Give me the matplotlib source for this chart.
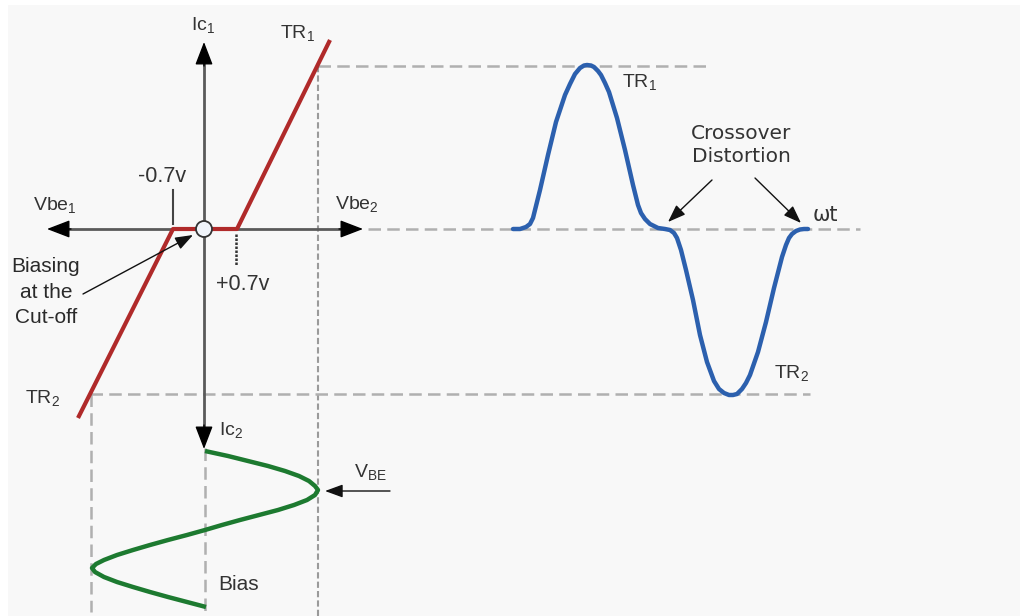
import matplotlib.pyplot as plt
from matplotlib.patches import Rectangle, Circle

plt.rcParams['font.family'] = ['Liberation Sans', 'DejaVu Sans']
plt.rcParams['mathtext.fontset'] = 'custom'
plt.rcParams['mathtext.rm'] = 'Liberation Sans'

# ---- transfer characteristic (red), pixel coords ----
red_x = [78, 173, 237, 330]
red_y = [418, 229, 229, 40]

# ---- output waveform with crossover distortion (blue) ----
blue_x = [513, 520, 526, 530, 533, 535, 540, 548, 556, 565, 570, 575, 580, 584, 587, 591,
          594, 598, 601, 605, 609, 617, 625, 633, 638, 641, 645, 650, 658, 665, 670,
          674, 677, 681, 686, 693, 700, 707, 714, 719, 724, 729, 733, 737, 742, 746,
          750, 758, 766, 774, 782, 786, 789, 792, 796, 800, 804, 808]
blue_y = [229, 229, 227, 224, 218, 210, 190, 155, 122, 95, 84, 74, 68, 65.5, 65, 65.5,
          67, 71, 75, 83, 92, 118, 150, 185, 205, 213, 219, 224, 228, 229, 230,
          233, 238, 250, 270, 300, 335, 362, 381, 389, 393, 395, 395, 394, 389, 383,
          375, 352, 322, 288, 257, 245, 238, 234, 231, 229.5, 229, 229]

# ---- input signal V_BE (green) ----
green_y = [451, 456, 461, 466, 471, 476, 481, 486, 490, 495, 500, 505, 510, 515, 520,
           525, 530, 535, 540, 545, 550, 555, 560, 564, 568, 572, 577, 582, 587, 592,
           597, 602, 607]
green_x = [205, 228, 248, 268, 285, 299, 309, 315, 318, 315, 307, 294, 278, 259, 240,
           222, 205, 187, 168, 150, 133, 117, 104, 96, 92, 95, 104, 117, 133, 150,
           168, 187, 206]

# axes origin
ox, oy = 204, 229

fig = plt.figure(figsize=(10.23, 6.16), dpi=100)
ax = fig.add_axes([0, 0, 1, 1])
ax.set_xlim(0, 1023)
ax.set_ylim(616, 0)
ax.axis('off')
ax.add_patch(Rectangle((8, 5), 1012, 620, facecolor='#f8f8f8', edgecolor='none', zorder=0))

# dashed guide lines
dash = dict(color='#b0b0b0', lw=1.8, ls=(0, (5, 2.5)), zorder=1)
top_y, bot_y = min(blue_y), max(blue_y)
ax.plot([318, 706], [top_y + 1, top_y + 1], **dash)
ax.plot([318, 318], [top_y + 1, 616], color='#9a9a9a', lw=1.5, ls=(0, (3, 1.5)), zorder=1)
ax.plot([368, 860], [oy, oy], **dash)
ax.plot([90, 810], [bot_y - 1, bot_y - 1], **dash)
ax.plot([91, 91], [bot_y - 1, 612], **dash)
ax.plot([205, 205], [448, 616], **dash)

# axes: grey lines with black arrow heads
ax.plot([ox, ox], [50, 440], color='#5a5a5a', lw=2, zorder=2)
ax.plot([55, 355], [oy, oy], color='#5a5a5a', lw=2, zorder=2)
head = dict(arrowstyle='-|>,head_length=0.65,head_width=0.25', color='black', lw=1,
            mutation_scale=22, shrinkA=0, shrinkB=0)
ax.annotate('', xy=(ox, 42), xytext=(ox, 66), arrowprops=head, zorder=3)
ax.annotate('', xy=(ox, 449), xytext=(ox, 425), arrowprops=head, zorder=3)
ax.annotate('', xy=(47, oy), xytext=(71, oy), arrowprops=head, zorder=3)
ax.annotate('', xy=(363, oy), xytext=(339, oy), arrowprops=head, zorder=3)

# threshold ticks
ax.plot([173, 173], [190, 224], color='#444444', lw=1.5, zorder=2)
ax.plot([236, 236], [234, 266], color='#333333', lw=1.8, ls=(0, (1, 0.6)), zorder=2)

# curves
ax.plot(red_x, red_y, color='#b02a2a', lw=3.0, solid_capstyle='butt', zorder=3)
ax.plot(blue_x, blue_y, color='#2c60ae', lw=3.2, solid_capstyle='round',
        solid_joinstyle='round', zorder=3)
ax.plot(green_x, green_y, color='#1d7a30', lw=3.2, solid_capstyle='butt',
        solid_joinstyle='round', zorder=3)

ax.add_patch(Circle((ox, oy), 8, facecolor='#f0f4fa', edgecolor='#333333', lw=1.3, zorder=4))

txt = dict(color='#333333', fontsize=14, ha='center', va='center', zorder=5)
ax.text(203, 26, 'Ic$_{\\mathregular{1}}$', **txt)
ax.text(298, 34, 'TR$_{\\mathregular{1}}$', **txt)
ax.text(162, 176, '-0.7v', **{**txt, 'fontsize': 15.5})
ax.text(243, 285, '+0.7v', **{**txt, 'fontsize': 15.5})
ax.text(55, 206, 'Vbe$_{\\mathregular{1}}$', **txt)
ax.text(357, 205, 'Vbe$_{\\mathregular{2}}$', **txt)
ax.text(46, 292, 'Biasing\nat the\nCut-off', linespacing=1.45,
        **{**txt, 'fontsize': 15, 'color': '#2a2a2a'})
ax.text(43, 399, 'TR$_{\\mathregular{2}}$', **txt)
ax.text(231, 431, 'Ic$_{\\mathregular{2}}$', **txt)
ax.text(370, 473, 'V$_{\\mathregular{BE}}$', **txt)
ax.text(239, 585, 'Bias', **{**txt, 'fontsize': 15})
ax.text(640, 83, 'TR$_{\\mathregular{1}}$', **txt)
ax.text(792, 374, 'TR$_{\\mathregular{2}}$', **txt)
ax.text(741, 145, 'Crossover\nDistortion', ha='center', va='center', linespacing=1.25,
        color='#333333', fontsize=14.5, family=['DejaVu Sans'], zorder=5)
ax.text(825, 215, 'ωt', ha='center', va='center', color='#333333', fontsize=15,
        family=['DejaVu Sans'], zorder=5)

# annotation arrows
arr = dict(arrowstyle='-|>,head_length=0.6,head_width=0.22', color='#111111', lw=1.0,
           mutation_scale=18, shrinkA=0, shrinkB=0)
ax.annotate('', xy=(193, 235), xytext=(83, 294), arrowprops=arr, zorder=5)
ax.annotate('', xy=(668, 222), xytext=(712, 180), arrowprops=arr, zorder=5)
ax.annotate('', xy=(801, 223), xytext=(755, 178), arrowprops=arr, zorder=5)
ax.annotate('', xy=(325, 491), xytext=(390, 491), arrowprops=arr, zorder=5)

fig.savefig('out.png', dpi=100)
